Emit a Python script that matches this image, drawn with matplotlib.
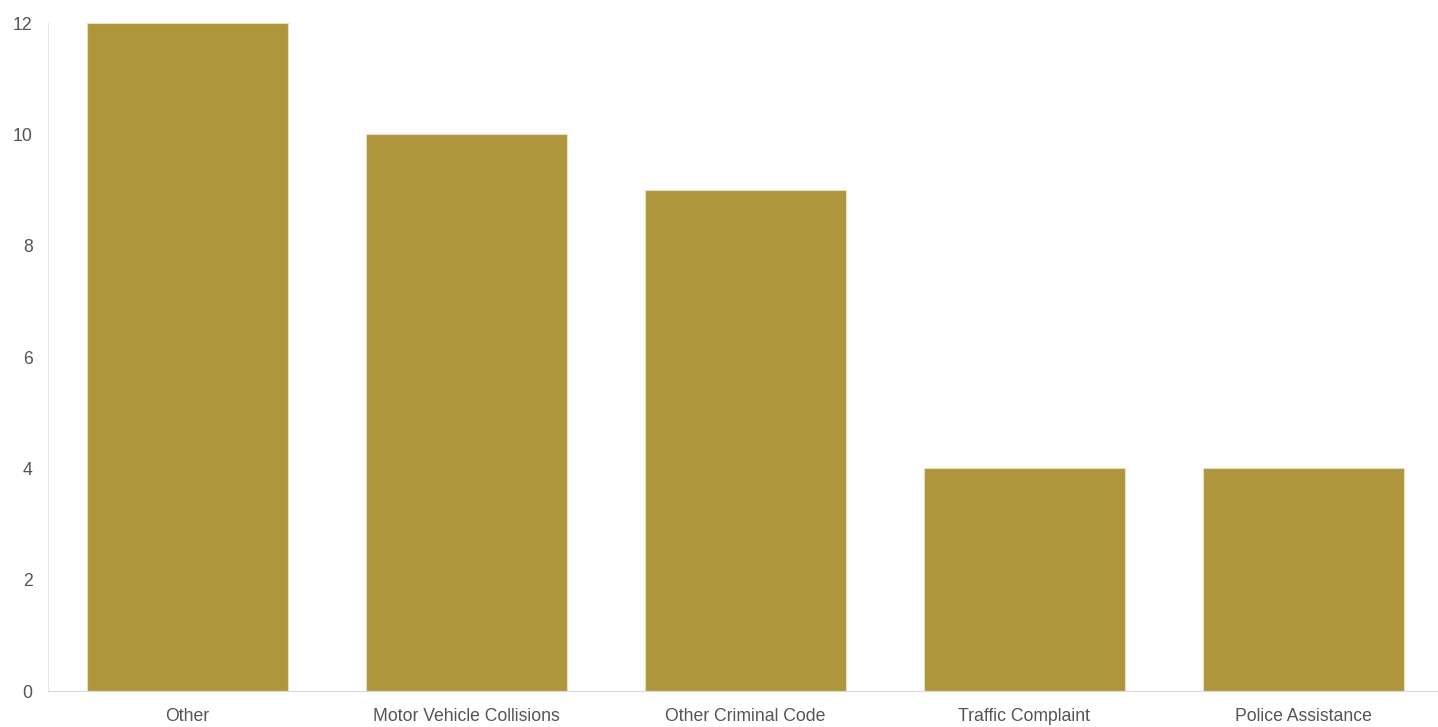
import matplotlib
matplotlib.use('Agg')
import matplotlib.pyplot as plt

categories = ['Other', 'Motor Vehicle Collisions', 'Other Criminal Code',
              'Traffic Complaint', 'Police Assistance']
counts = [12, 10, 9, 4, 4]
yticks = [0, 2, 4, 6, 8, 10, 12]

plt.rcParams['font.family'] = ['Liberation Sans', 'DejaVu Sans']

W, H = 1438, 727
fig = plt.figure(figsize=(W / 100, H / 100), dpi=100)
ax = fig.add_axes([48 / W, (H - 691) / H, 1395 / W, 668 / H])

ax.bar(range(len(categories)), counts, width=0.72, color='#af953c',
       edgecolor='#e8dfc0', linewidth=0.8)

ax.set_xlim(-0.5, len(categories) - 0.5)
ax.set_ylim(0, 12)
ax.set_yticks(yticks)
ax.set_xticks(range(len(categories)))
ax.set_xticklabels(categories)

for side in ['top', 'right']:
    ax.spines[side].set_visible(False)
ax.spines['left'].set_color('#e6e6e6')
ax.spines['bottom'].set_color('#d9d9d9')
ax.tick_params(axis='both', length=0, colors='#555555', labelsize=12.7)
ax.tick_params(axis='y', pad=11)
ax.tick_params(axis='x', pad=12)

fig.savefig('out.png', dpi=100)
